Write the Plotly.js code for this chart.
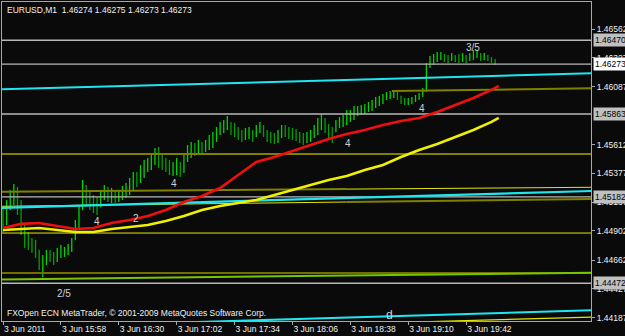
<!DOCTYPE html>
<html><head><meta charset="utf-8">
<script src="https://cdn.plot.ly/plotly-3.0.1.min.js"></script>
<style>html,body{margin:0;padding:0;background:#0a0a0a;overflow:hidden}#chart{width:625px;height:336px}</style>
</head><body><div id="chart"></div>
<script>
// ---- data: EURUSD M1, minutes after 15:26 on 3 Jun 2011 (2-minute sampling of the bars) ----
const barTime = [0,2,4,6,8,10,12,14,16,18,20,22,24,26,28,30,32,34,36,38,40,42,44,46,48,50,52,54,56,58,
60,62,64,66,68,70,72,74,76,78,80,82,84,86,88,90,92,94,96,98,100,102,104,106,108,110,112,114,116,118,
120,122,124,126,128,130,132,134,136,138,140,142,144,146,148,150,152,154,156,158,160,162,164,166,168,170,172,174,176,178,
180,182,184,186,188,190,192,194,196,198,200,202,204,206,208,210,212,214,216,218,220,222,224,226,228,230,232,234,236,238,
240,242,244,246,248,250,252,254,256,258,260,262,264,266,268,270,272];
const barOpen = [1.45058,
1.45033,1.45075,1.45157,1.45198,1.45116,1.44910,1.44828,1.44787,1.44762,1.44746,
1.44647,1.44664,1.44705,1.44688,1.44680,1.44729,1.44746,1.44746,1.44762,1.44828,
1.44951,1.45075,1.45198,1.45157,1.45116,1.45116,1.45099,1.45198,1.45222,1.45190,
1.45198,1.45181,1.45190,1.45214,1.45239,1.45280,1.45346,1.45321,1.45403,1.45420,
1.45469,1.45485,1.45527,1.45485,1.45444,1.45420,1.45403,1.45420,1.45444,1.45403,
1.45485,1.45568,1.45584,1.45568,1.45592,1.45584,1.45609,1.45650,1.45666,1.45716,
1.45757,1.45773,1.45773,1.45748,1.45732,1.45691,1.45674,1.45707,1.45707,1.45691,
1.45732,1.45757,1.45716,1.45674,1.45666,1.45650,1.45683,1.45732,1.45724,1.45707,
1.45699,1.45683,1.45666,1.45650,1.45674,1.45691,1.45732,1.45798,1.45814,1.45773,
1.45732,1.45716,1.45773,1.45814,1.45814,1.45847,1.45855,1.45880,1.45896,1.45896,
1.45913,1.45929,1.45946,1.45979,1.45979,1.46003,1.46020,1.46028,1.46036,1.46011,
1.45979,1.45962,1.45970,1.45979,1.45995,1.46020,1.46061,1.46258,1.46307,1.46324,
1.46340,1.46348,1.46324,1.46324,1.46332,1.46324,1.46315,1.46332,1.46315,1.46340,
1.46348,1.46356,1.46332,1.46340,1.46324,1.46307];
const barHigh = [
1.45099,1.45157,1.45239,1.45288,1.45264,1.45157,1.44951,1.44894,1.44844,1.44828,
1.44746,1.44705,1.44746,1.44746,1.44729,1.44762,1.44787,1.44770,1.44795,1.44844,
1.44992,1.45116,1.45321,1.45280,1.45239,1.45198,1.45181,1.45239,1.45280,1.45264,
1.45255,1.45239,1.45239,1.45272,1.45296,1.45338,1.45387,1.45387,1.45444,1.45485,
1.45502,1.45543,1.45584,1.45592,1.45527,1.45502,1.45485,1.45469,1.45502,1.45469,
1.45527,1.45609,1.45633,1.45625,1.45650,1.45633,1.45650,1.45691,1.45716,1.45757,
1.45798,1.45814,1.45847,1.45798,1.45789,1.45757,1.45732,1.45748,1.45757,1.45732,
1.45773,1.45798,1.45773,1.45732,1.45716,1.45707,1.45732,1.45773,1.45773,1.45757,
1.45748,1.45740,1.45716,1.45707,1.45716,1.45732,1.45773,1.45831,1.45863,1.45831,
1.45781,1.45757,1.45814,1.45839,1.45855,1.45896,1.45896,1.45929,1.45929,1.45937,
1.45946,1.45962,1.45979,1.46003,1.46011,1.46028,1.46044,1.46053,1.46061,1.46044,
1.46011,1.45995,1.45995,1.46003,1.46020,1.46036,1.46077,1.46283,1.46340,1.46356,
1.46373,1.46373,1.46356,1.46348,1.46365,1.46348,1.46356,1.46365,1.46348,1.46365,
1.46389,1.46389,1.46365,1.46365,1.46348,1.46332,1.46315];
const barLow = [
1.44894,1.44951,1.45075,1.45116,1.45033,1.44869,1.44762,1.44746,1.44721,1.44680,
1.44581,1.44524,1.44623,1.44647,1.44623,1.44647,1.44680,1.44688,1.44705,1.44729,
1.44828,1.44927,1.45075,1.45099,1.45075,1.45050,1.45033,1.45099,1.45157,1.45140,
1.45132,1.45132,1.45140,1.45157,1.45173,1.45198,1.45239,1.45264,1.45296,1.45338,
1.45387,1.45403,1.45444,1.45420,1.45403,1.45387,1.45362,1.45354,1.45362,1.45346,
1.45379,1.45469,1.45502,1.45518,1.45543,1.45527,1.45551,1.45568,1.45584,1.45633,
1.45691,1.45707,1.45732,1.45691,1.45674,1.45650,1.45633,1.45650,1.45658,1.45633,
1.45674,1.45707,1.45674,1.45633,1.45625,1.45617,1.45625,1.45666,1.45674,1.45658,
1.45650,1.45642,1.45625,1.45609,1.45625,1.45633,1.45666,1.45691,1.45732,1.45707,
1.45650,1.45625,1.45716,1.45748,1.45757,1.45773,1.45798,1.45814,1.45847,1.45855,
1.45863,1.45880,1.45888,1.45913,1.45929,1.45946,1.45979,1.45987,1.45995,1.45979,
1.45946,1.45937,1.45937,1.45946,1.45962,1.45979,1.46003,1.46044,1.46241,1.46266,
1.46291,1.46307,1.46291,1.46283,1.46299,1.46291,1.46283,1.46291,1.46283,1.46299,
1.46307,1.46324,1.46299,1.46307,1.46299,1.46283,1.46266];
const barClose = [
1.45033,1.45075,1.45157,1.45198,1.45116,1.44910,1.44828,1.44787,1.44762,1.44746,
1.44647,1.44664,1.44705,1.44688,1.44680,1.44729,1.44746,1.44746,1.44762,1.44828,
1.44951,1.45075,1.45198,1.45157,1.45116,1.45116,1.45099,1.45198,1.45222,1.45190,
1.45198,1.45181,1.45190,1.45214,1.45239,1.45280,1.45346,1.45321,1.45403,1.45420,
1.45469,1.45485,1.45527,1.45485,1.45444,1.45420,1.45403,1.45420,1.45444,1.45403,
1.45485,1.45568,1.45584,1.45568,1.45592,1.45584,1.45609,1.45650,1.45666,1.45716,
1.45757,1.45773,1.45773,1.45748,1.45732,1.45691,1.45674,1.45707,1.45707,1.45691,
1.45732,1.45757,1.45716,1.45674,1.45666,1.45650,1.45683,1.45732,1.45724,1.45707,
1.45699,1.45683,1.45666,1.45650,1.45674,1.45691,1.45732,1.45798,1.45814,1.45773,
1.45732,1.45716,1.45773,1.45814,1.45814,1.45847,1.45855,1.45880,1.45896,1.45896,
1.45913,1.45929,1.45946,1.45979,1.45979,1.46003,1.46020,1.46028,1.46036,1.46011,
1.45979,1.45962,1.45970,1.45979,1.45995,1.46020,1.46061,1.46258,1.46307,1.46324,
1.46340,1.46348,1.46324,1.46324,1.46332,1.46324,1.46315,1.46332,1.46315,1.46340,
1.46348,1.46356,1.46332,1.46340,1.46324,1.46307,1.46274];

// moving averages
const maTime = [0,10,20,30,40,50,60,70,80,90,100,110,120,130,140,150,160,170,180,190,200,210,220,230,240,250,260,270,274];
const maRed = [1.44927,1.44960,1.44968,1.44943,1.44918,1.44927,1.44968,1.44992,1.45025,1.45075,1.45140,1.45190,1.45255,1.45362,1.45469,
1.45510,1.45559,1.45609,1.45658,1.45699,1.45732,1.45773,1.45806,1.45831,1.45880,1.45937,1.45995,1.46061,1.46094];
const maYellow = [1.44910,1.44918,1.44927,1.44910,1.44894,1.44894,1.44918,1.44935,1.44951,1.44984,1.45025,1.45075,1.45107,1.45132,1.45157,
1.45198,1.45239,1.45280,1.45321,1.45354,1.45403,1.45444,1.45510,1.45568,1.45617,1.45674,1.45732,1.45798,1.45831];

// horizontal price levels (grey), bid line
const levelPrices = [1.46470, 1.46273, 1.45863, 1.45182, 1.44472];
const bidPrice = 1.46273;

// trend / channel lines: [start, end] at times lineTimes
const lineTimes = [-1, 326];
const cyanUpper = [1.46066, 1.46199];
const cyanMiddle = [1.45091, 1.45231];
const cyanLower = [1.44106, 1.44250];
const oliveFlat = [1.45535, 1.45535];
const oliveMid = [1.45225, 1.45261];
const yellowMid = [1.45105, 1.45165];
const yellowFlat = [1.44885, 1.44885];
const oliveLow = [1.44557, 1.44557];
const greenLow = [1.44503, 1.44559];
const yellowLow = [1.44057, 1.44195];
const oliveTopTimes = [215, 326];
const oliveTop = [1.46052, 1.46075];
const colourSwitchTime = 190;

// wave labels
const waveText = ["2/5","4","2","4","4","4","3/5","d"];
const waveTime = [33.7,52,73.5,94.5,190.7,231.6,259.8,213.9];
const wavePrice = [1.44392,1.44976,1.45001,1.45296,1.45617,1.45905,1.46406,1.44212];

// axes
const xTickVals = [0,32,64,96,128,160,192,224,256];
const xTickText = ["3 Jun 2011","3 Jun 15:58","3 Jun 16:30","3 Jun 17:02","3 Jun 17:34","3 Jun 18:06","3 Jun 18:38","3 Jun 19:10","3 Jun 19:42"];
const yTickVals = [1.46562,1.46327,1.46087,1.45612,1.45377,1.45137,1.44902,1.44662,1.44427,1.44187];
const headerText = "EURUSD,M1\u00a0\u00a01.46274 1.46275 1.46273 1.46273";
const footerText = "FXOpen ECN MetaTrader, \u00a9 2001-2009 MetaQuotes Software Corp.";

// ---- build ----
const FONT = "Liberation Sans, Arial, sans-serif";
const traces = [];
function seg(x, y, color, width) {
  traces.push({type:'scatter', mode:'lines', x:x, y:y, line:{color:color, width:width}, hoverinfo:'skip'});
}
function interp(arr, t) { // value along a straight line given at lineTimes
  return arr[0] + (arr[1]-arr[0])*(t-lineTimes[0])/(lineTimes[1]-lineTimes[0]);
}
levelPrices.forEach(p => seg(lineTimes, [p,p], '#b8b8b8', 1.4));
seg(lineTimes, oliveFlat, '#808000', 2);
seg(lineTimes, oliveLow, '#707000', 2);
seg(lineTimes, greenLow, '#78c400', 2);
seg(lineTimes, yellowFlat, '#e6e600', 1);
seg(oliveTopTimes, oliveTop, '#808000', 2);
seg([lineTimes[0], colourSwitchTime], [oliveMid[0], interp(oliveMid, colourSwitchTime)], '#808000', 2);
seg([colourSwitchTime, lineTimes[1]], [interp(oliveMid, colourSwitchTime), oliveMid[1]], '#e6e600', 1);
seg([lineTimes[0], colourSwitchTime], [yellowMid[0], interp(yellowMid, colourSwitchTime)], '#e6e600', 1);
seg([colourSwitchTime, lineTimes[1]], [interp(yellowMid, colourSwitchTime), yellowMid[1]], '#808000', 2);
seg(lineTimes, cyanUpper, '#1ee6f0', 2);
seg(lineTimes, cyanMiddle, '#1ee6f0', 2.2);
seg(lineTimes, cyanLower, '#1ee6f0', 2);
seg(lineTimes, yellowLow, '#e6e600', 1.2);

traces.push({type:'ohlc', x:barTime, open:barOpen, high:barHigh, low:barLow, close:barClose,
  tickwidth:0.15, increasing:{line:{color:'#00d400', width:1.3}}, decreasing:{line:{color:'#00a000', width:1.3}},
  hoverinfo:'skip'});

seg(maTime, maYellow, '#f0f000', 2.6);
seg(maTime, maRed, '#ee1010', 2.6);

const annotations = [];
waveText.forEach((s,i) => annotations.push({xref:'x', yref:'y', x:waveTime[i], y:wavePrice[i], text:s,
  showarrow:false, font:{family:FONT, size: s==='d'?12:10, color:'#cfcfcf'}}));
levelPrices.forEach(p => annotations.push({xref:'paper', yref:'y', x:1, y:p, xanchor:'left', yanchor:'middle', xshift:2,
  text:p.toFixed(5), showarrow:false, bgcolor: p===bidPrice ? '#ffffff' : '#c0c0c0', borderpad:1,
  font:{family:FONT, size:8.5, color:'#000000'}}));
annotations.push({xref:'paper', yref:'paper', x:0.005, y:0.975, xanchor:'left', yanchor:'middle', text:headerText,
  showarrow:false, font:{family:FONT, size:8.5, color:'#f0f0f0'}});
annotations.push({xref:'paper', yref:'paper', x:0.005, y:0.025, xanchor:'left', yanchor:'middle', text:footerText,
  showarrow:false, font:{family:FONT, size:8.5, color:'#f0f0f0'}});

const layout = {
  width:625, height:336, margin:{l:2, r:34, t:2, b:15},
  paper_bgcolor:'#0a0a0a', plot_bgcolor:'#0a0a0a', showlegend:false, hovermode:false,
  font:{family:FONT, size:8.5, color:'#f0f0f0'},
  xaxis:{range:[-0.55,325], tickvals:xTickVals, ticktext:xTickText, ticks:'outside', ticklen:3, tickcolor:'#a8a8a8',
    showgrid:false, zeroline:false, showline:true, linecolor:'#a8a8a8', linewidth:1, mirror:true,
    ticklabelposition:'outside right', rangeslider:{visible:false}, tickfont:{family:FONT, size:8.5, color:'#f0f0f0'}},
  yaxis:{side:'right', range:[1.44162,1.46784], tickvals:yTickVals, ticktext:yTickVals.map(v=>v.toFixed(5)),
    ticks:'outside', ticklen:3, tickcolor:'#a8a8a8', showgrid:false, zeroline:false, showline:true,
    linecolor:'#a8a8a8', linewidth:1, mirror:true, tickfont:{family:FONT, size:8.5, color:'#f0f0f0'}},
  annotations:annotations
};
Plotly.newPlot('chart', traces, layout, {staticPlot:true, displayModeBar:false});
</script></body></html>
